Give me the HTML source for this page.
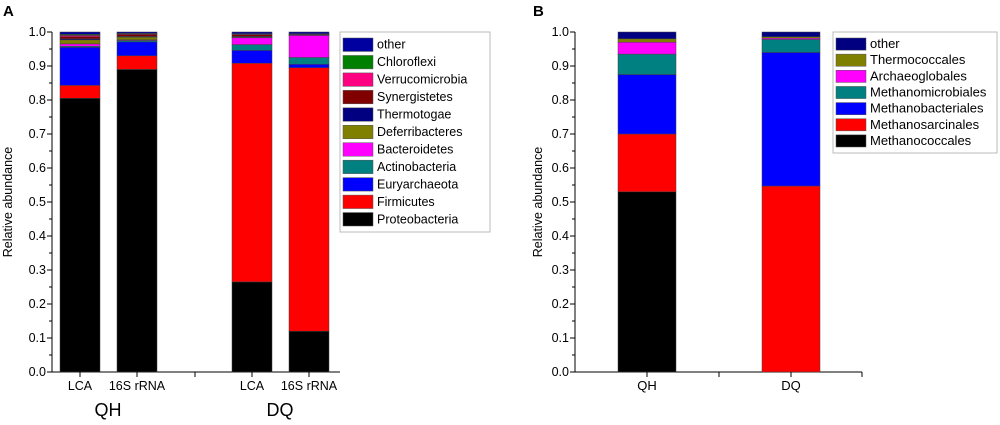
<!DOCTYPE html>
<html><head><meta charset="utf-8"><style>
body{margin:0;background:#fff}
svg{font-family:"Liberation Sans",Arial,sans-serif}
</style></head><body>
<svg id="c" width="1000" height="420" viewBox="0 0 1000 420"></svg>
<script>
const catsA=["LCA","16S rRNA","LCA","16S rRNA"];
const seriesA=["Proteobacteria","Firmicutes","Euryarchaeota","Actinobacteria","Bacteroidetes","Deferribacteres","Thermotogae","Synergistetes","Verrucomicrobia","Chloroflexi","other"];
const colorsA=["#000000","#ff0000","#0000ff","#008080","#ff00ff","#808000","#000080","#800000","#ff0080","#008000","#0000a0"];
const valsA=[
 [0.805,0.038,0.112,0.003,0.007,0.012,0.003,0.006,0.004,0.003,0.007],
 [0.89,0.04,0.041,0.004,0.002,0.008,0.002,0.006,0.002,0.001,0.004],
 [0.265,0.643,0.038,0.017,0.02,0.002,0.002,0.005,0.002,0.001,0.005],
 [0.12,0.775,0.01,0.02,0.065,0.001,0.001,0.001,0.001,0.001,0.005]];
const catsB=["QH","DQ"];
const seriesB=["Methanococcales","Methanosarcinales","Methanobacteriales","Methanomicrobiales","Archaeoglobales","Thermococcales","other"];
const colorsB=["#000000","#ff0000","#0000ff","#008080","#ff00ff","#808000","#000080"];
const valsB=[[0.53,0.17,0.175,0.06,0.035,0.01,0.02],[0,0.547,0.393,0.038,0.004,0.004,0.014]];
const ticks=[0,0.1,0.2,0.3,0.4,0.5,0.6,0.7,0.8,0.9,1.0];
const NS="http://www.w3.org/2000/svg",svg=document.getElementById('c');
function el(t,a,txt){const e=document.createElementNS(NS,t);for(const k in a)e.setAttribute(k,a[k]);if(txt!=null)e.textContent=txt;svg.appendChild(e);return e;}
const y=v=>372-v*340;
function axis(x0,x1,lx){
 let a=el('line',{x1:x0,y1:32,x2:x0,y2:372,stroke:'#000'});
 let b=el('line',{x1:x0,y1:372,x2:x1,y2:372,stroke:'#000'});
 for(let i=0;i<=20;i++){const v=i/20;el('line',{x1:x0-(i%2?3:5),y1:y(v),x2:x0,y2:y(v),stroke:'#000'});}
 ticks.forEach(t=>{const e=el('text',{x:x0-6,y:y(t)+4,'text-anchor':'end','font-size':12.5},t.toFixed(1));});
 const yl=el('text',{x:lx,y:202,'text-anchor':'middle','font-size':12.5,transform:`rotate(-90 ${lx} 202)`},'Relative abundance');
 
}
function bars(xs,w,vals,cols,series){
 vals.forEach((row,i)=>{let acc=0;row.forEach((v,j)=>{if(v<=0)return;const r=el('rect',{x:xs[i],y:y(acc+v),width:w,height:y(acc)-y(acc+v),fill:cols[j],stroke:'#444','stroke-width':0.5});acc+=v;});});
}
function legend(x,yy,w,h,series,cols,fs){
 const b=el('rect',{x:x,y:yy,width:w,height:h,fill:'#fff',stroke:'#bbb'});
 const n=series.length,step=(h-8)/n;
 for(let k=0;k<n;k++){const j=n-1-k,cy=yy+4+k*step;
  const s=el('rect',{x:x+3,y:cy+2,width:30,height:step-4,fill:cols[j],stroke:'#555','stroke-width':0.5});
  const t=el('text',{x:x+37,y:cy+step/2+4,'font-size':fs},series[j]);}
}
// Panel A
let ta=el('text',{x:3,y:16,'font-size':15,'font-weight':'bold'},'A');
axis(52,340,12);
const xsA=[60,117,232,289];
bars(xsA,40,valsA,colorsA,seriesA);
[80,137,195,252,309].forEach(x=>el('line',{x1:x,y1:372,x2:x,y2:377,stroke:'#000'}));
catsA.forEach((c,i)=>{const t=el('text',{x:xsA[i]+20,y:390,'text-anchor':'middle','font-size':12.5},c);});
[["QH",108],["DQ",280]].forEach(g=>{const t=el('text',{x:g[1],y:416,'text-anchor':'middle','font-size':18},g[0]);});
legend(340,32,150,200,seriesA,colorsA,12.5);
// Panel B
let tb=el('text',{x:533,y:16,'font-size':15,'font-weight':'bold'},'B');
axis(575,862,542);
const xsB=[618,762];
bars(xsB,58,valsB,colorsB,seriesB);
[647,719,791,862].forEach(x=>el('line',{x1:x,y1:372,x2:x,y2:377,stroke:'#000'}));
catsB.forEach((c,i)=>{const t=el('text',{x:xsB[i]+29,y:390,'text-anchor':'middle','font-size':13},c);});
legend(833,32,164,121,seriesB,colorsB,13);
</script>
</body></html>
